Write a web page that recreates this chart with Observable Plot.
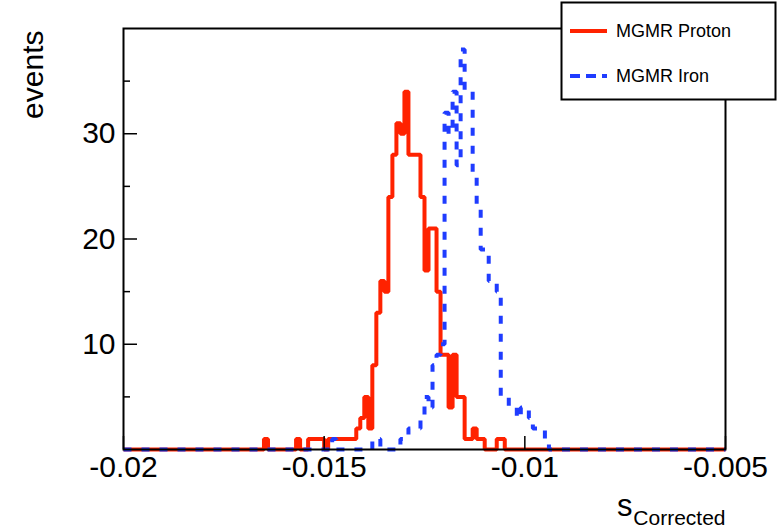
<!DOCTYPE html>
<html>
<head>
<meta charset="utf-8">
<script src="https://cdn.jsdelivr.net/npm/d3@7"></script>
<script src="https://cdn.jsdelivr.net/npm/@observablehq/plot@0.6"></script>
<style>
  html, body { margin: 0; padding: 0; background: #fff; }
  svg { display: block; }
</style>
</head>
<body>
<div id="chart"></div>
<script>
// Histogram binning: 150 bins of width 0.0001 from -0.02 to -0.005
const xMin = -0.02;
const binWidth = 0.0001;
const nBins = 150;

// Event counts per bin, MGMR proton showers
const protonCounts = [
  0,0,0,0,0,0,0,0,0,0, 0,0,0,0,0,0,0,0,0,0,
  0,0,0,0,0,0,0,0,0,0, 0,0,0,0,0,1,0,0,0,0,
  0,0,0,1,0,0,1,1,1,1, 0,1,1,1,1,1,1,1,2,3,
  5,2,8,13,16,15,24,28,31,30, 34,28,28,28,24,17,21,21,15,9,
  9,4,9,5,5,1,1,2,1,1, 0,0,0,1,1,0,0,0,0,0,
  0,0,0,0,0,0,0,0,0,0, 0,0,0,0,0,0,0,0,0,0,
  0,0,0,0,0,0,0,0,0,0, 0,0,0,0,0,0,0,0,0,0,
  0,0,0,0,0,0,0,0,0,0
];

// Event counts per bin, MGMR iron showers
const ironCounts = [
  0,0,0,0,0,0,0,0,0,0, 0,0,0,0,0,0,0,0,0,0,
  0,0,0,0,0,0,0,0,0,0, 0,0,0,0,0,0,0,0,0,0,
  0,0,0,0,0,0,0,0,0,0, 0,0,1,0,0,0,0,0,0,0,
  0,0,1,1,0,0,0,0,0,1, 1,2,2,2,3,5,4,8,9,10,
  32,30,34,27,38,34,34,26,23,19, 19,16,16,15,5,5,4,4,3,4,
  4,3,2,2,2,1,0,0,0,0, 0,0,0,0,0,0,0,0,0,0,
  0,0,0,0,0,0,0,0,0,0, 0,0,0,0,0,0,0,0,0,0,
  0,0,0,0,0,0,0,0,0,0
];

const seriesNames = ["MGMR Proton", "MGMR Iron"];
const xTicks = [-0.02, -0.015, -0.01, -0.005];
const yTicks = [10, 20, 30];
const yMinorTicks = [5, 15, 25, 35];

const protonColor = "#ff2200";
const ironColor = "#1f3cff";
const font = "'Liberation Sans', Arial, Helvetica, sans-serif";

// Step outline: one point per bin low edge, plus the closing upper edge
function steps(counts) {
  const pts = counts.map((c, i) => ({x: xMin + i * binWidth, y: c}));
  pts.push({x: xMin + nBins * binWidth, y: counts[nBins - 1]});
  return pts;
}

const fmt = d => d === 0 ? "0" : String(+d.toFixed(3));

const chart = Plot.plot({
  width: 778,
  height: 529,
  marginLeft: 123,
  marginRight: 53,
  marginTop: 28,
  marginBottom: 80,
  style: {fontFamily: font, background: "white", overflow: "visible"},
  x: {domain: [-0.02, -0.005]},
  y: {domain: [0, 40]},
  marks: [
    Plot.line(steps(protonCounts), {x: "x", y: "y", curve: "step-after", stroke: protonColor, strokeWidth: 4, strokeLinejoin: "miter", strokeLinecap: "butt"}),
    Plot.line(steps(ironCounts), {x: "x", y: "y", curve: "step-after", stroke: ironColor, strokeWidth: 4, strokeDasharray: "8,10", strokeLinejoin: "miter", strokeLinecap: "butt"}),
    Plot.frame({stroke: "black", strokeWidth: 2}),
    // inward ticks
    Plot.axisY({ticks: yTicks, tickSize: -14, text: null, stroke: "black", strokeWidth: 1.5, label: null}),
    Plot.axisY({ticks: yMinorTicks, tickSize: -7, text: null, stroke: "black", strokeWidth: 1.5, label: null}),
    Plot.axisX({ticks: xTicks, tickSize: -13, text: null, stroke: "black", strokeWidth: 1.5, label: null}),
    // tick labels
    Plot.axisY({ticks: yTicks, tickSize: 0, tickPadding: 8, fontSize: 30, fill: "black", label: null}),
    Plot.axisX({ticks: xTicks, tickSize: 0, tickPadding: 6, fontSize: 30, fill: "black", tickFormat: fmt, label: null}),
    // axis titles
    Plot.text(["events"], {frameAnchor: "top-left", rotate: -90, textAnchor: "end", lineAnchor: "middle", dx: -90, dy: 2, fontSize: 30, fill: "black"}),
    Plot.text(["s"], {frameAnchor: "bottom-right", textAnchor: "end", lineAnchor: "bottom", dx: -93, dy: 66, fontSize: 31, fill: "black"}),
    Plot.text(["Corrected"], {frameAnchor: "bottom-right", textAnchor: "end", lineAnchor: "bottom", dx: 0, dy: 75, fontSize: 21, fill: "black"})
  ]
});

// Legend box in the upper right corner
const svg = d3.select(chart);
const lg = svg.append("g").attr("font-family", font).attr("text-anchor", "start");
lg.append("rect").attr("x", 561.5).attr("y", 2.5).attr("width", 214).attr("height", 97)
  .attr("fill", "white").attr("stroke", "black").attr("stroke-width", 2);
const rows = [
  {name: seriesNames[0], color: protonColor, dash: null, y: 31},
  {name: seriesNames[1], color: ironColor, dash: "10,6", y: 76}
];
for (const r of rows) {
  lg.append("line").attr("x1", 570).attr("x2", 607).attr("y1", r.y).attr("y2", r.y)
    .attr("stroke", r.color).attr("stroke-width", 4).attr("stroke-dasharray", r.dash);
  lg.append("text").attr("x", 616).attr("y", r.y).attr("dy", "0.36em")
    .attr("text-anchor", "start").attr("font-size", 18).attr("fill", "black").text(r.name);
}

document.getElementById("chart").appendChild(chart);
</script>
</body>
</html>
